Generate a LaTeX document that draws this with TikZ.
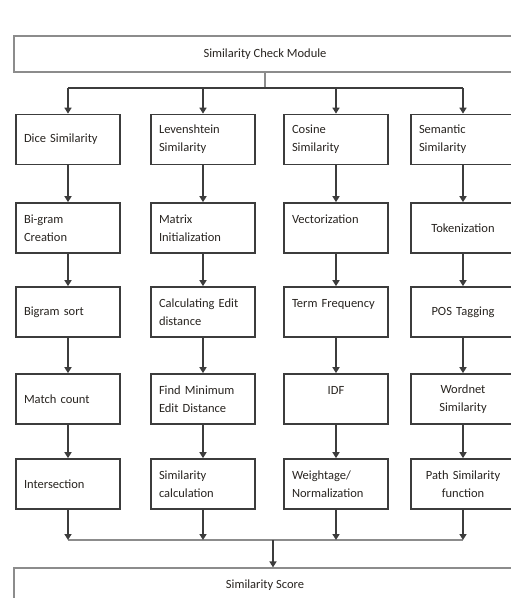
\documentclass[tikz,border=0pt]{standalone}
\usepackage{fontspec}
\setmainfont{Carlito}
\usetikzlibrary{arrows.meta}

\definecolor{boxgray}{RGB}{60,60,60}
\definecolor{framegray}{RGB}{140,140,140}
\definecolor{textgray}{RGB}{40,36,32}

\begin{document}
\begin{tikzpicture}[x=1pt, y=-1pt,
    stage/.style={draw=boxgray, line width=1.7pt, minimum width=104pt, minimum height=50pt, text width=88pt, inner xsep=8pt, align=left, font=\fontsize{12.5}{18}\selectfont, text=textgray},
    stagec/.style={stage, align=center},
    frame/.style={draw=framegray, line width=1.2pt, minimum width=502pt, minimum height=36pt, font=\fontsize{12.5}{15}\selectfont, text=textgray},
    flow/.style={-{Triangle[width=7pt, length=6pt]}, line width=1.8pt, draw=boxgray},
    rail/.style={draw=framegray, line width=1.2pt}]
    \useasboundingbox (0,0) rectangle (511,598);
    \clip (0,0) rectangle (511,598);

    % Similarity check module
    \node[frame] (module) at (265,54) {Similarity Check Module};

    % Dice column
    \node[stage] (dice1) at (68,139.5) {Dice Similarity};
    \node[stage] (dice2) at (68,228) {Bi-gram\\Creation};
    \node[stage] (dice3) at (68,312) {Bigram sort};
    \node[stage] (dice4) at (68,399) {Match count};
    \node[stage] (dice5) at (68,484) {Intersection};

    % Levenshtein column
    \node[stage] (lev1) at (203,139.5) {Levenshtein\\Similarity};
    \node[stage] (lev2) at (203,228) {Matrix\\Initialization};
    \node[stage] (lev3) at (203,312) {Calculating Edit\\distance};
    \node[stage] (lev4) at (203,399) {Find Minimum\\Edit Distance};
    \node[stage] (lev5) at (203,484) {Similarity\\calculation};

    % Cosine column
    \node[stage] (cos1) at (336,139.5) {Cosine\\Similarity};
    \node[stage] (cos2) at (336,228) {Vectorization\\~};
    \node[stage] (cos3) at (336,312) {Term Frequency\\~};
    \node[stagec] (cos4) at (336,399) {IDF\\~};
    \node[stage] (cos5) at (336,484) {Weightage/\\Normalization};

    % Semantic column
    \node[stage] (sem1) at (463,139.5) {Semantic\\Similarity};
    \node[stagec] (sem2) at (463,228) {Tokenization};
    \node[stagec] (sem3) at (463,312) {POS Tagging};
    \node[stagec] (sem4) at (463,399) {Wordnet\\Similarity};
    \node[stagec] (sem5) at (463,484) {Path Similarity\\function};

    % Similarity score
    \node[frame, minimum height=34pt] (score) at (265,585) {Similarity Score};

    % Split to the four measures
    \coordinate (split) at (265,88);
    \draw[rail] (module) -- (split);
    \draw[line width=1.8pt, draw=boxgray] (dice1 |- split) -- (sem1 |- split);
    \draw[flow] (dice1 |- split) -- (dice1);
    \draw[flow] (lev1 |- split) -- (lev1);
    \draw[flow] (cos1 |- split) -- (cos1);
    \draw[flow] (sem1 |- split) -- (sem1);

    % Steps inside each column
    \draw[flow] (dice1) -- (dice2);
    \draw[flow] (dice2) -- (dice3);
    \draw[flow] (dice3) -- (dice4);
    \draw[flow] (dice4) -- (dice5);
    \draw[flow] (lev1) -- (lev2);
    \draw[flow] (lev2) -- (lev3);
    \draw[flow] (lev3) -- (lev4);
    \draw[flow] (lev4) -- (lev5);
    \draw[flow] (cos1) -- (cos2);
    \draw[flow] (cos2) -- (cos3);
    \draw[flow] (cos3) -- (cos4);
    \draw[flow] (cos4) -- (cos5);
    \draw[flow] (sem1) -- (sem2);
    \draw[flow] (sem2) -- (sem3);
    \draw[flow] (sem3) -- (sem4);
    \draw[flow] (sem4) -- (sem5);

    % Merge into the score
    \coordinate (merge) at (273,540);
    \draw[rail] (dice5 |- merge) -- (sem5 |- merge);
    \draw[flow] (dice5) -- (dice5 |- merge);
    \draw[flow] (lev5) -- (lev5 |- merge);
    \draw[flow] (cos5) -- (cos5 |- merge);
    \draw[flow] (sem5) -- (sem5 |- merge);
    \draw[flow] (merge) -- (merge |- score.north);
\end{tikzpicture}
\end{document}
